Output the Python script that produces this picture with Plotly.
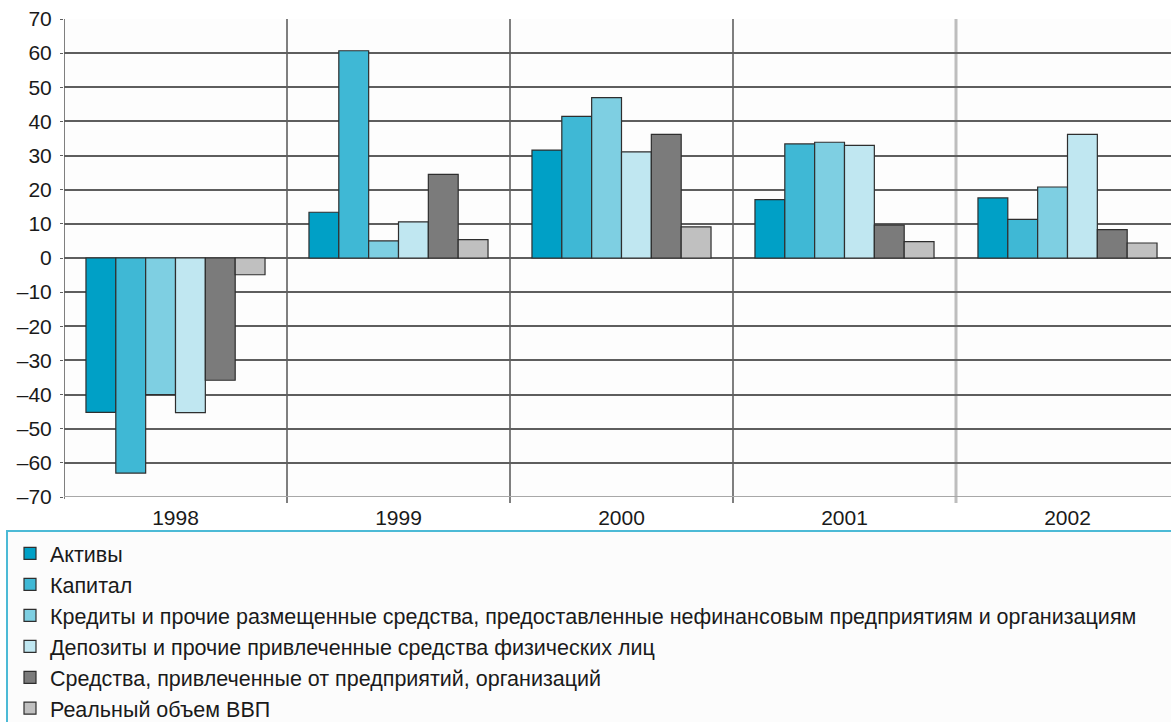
import plotly.graph_objects as go

# Growth rates, % — grouped by year
years = ["1998", "1999", "2000", "2001", "2002"]

series_names = [
    "Активы",
    "Капитал",
    "Кредиты и прочие размещенные средства, предоставленные нефинансовым предприятиям и организациям",
    "Депозиты и прочие привлеченные средства физических лиц",
    "Средства, привлеченные от предприятий, организаций",
    "Реальный объем ВВП",
]

aktivy = [-45.2, 13.4, 31.6, 17.1, 17.6]
kapital = [-63.0, 60.7, 41.5, 33.4, 11.3]
kredity = [-40.0, 5.0, 47.0, 33.9, 20.8]
depozity = [-45.3, 10.6, 31.1, 33.0, 36.2]
sredstva = [-35.8, 24.5, 36.2, 9.6, 8.3]
vvp = [-4.9, 5.4, 9.1, 4.8, 4.4]

series_values = [aktivy, kapital, kredity, depozity, sredstva, vvp]
series_colors = ["#00a0c6", "#3fb8d5", "#7ecfe2", "#c0e7f1", "#7b7b7b", "#c0c0c0"]

y_ticks = list(range(-70, 71, 10))
y_tick_text = [("–" + str(abs(v))) if v < 0 else str(v) for v in y_ticks]

FONT = "Liberation Sans, Arial, sans-serif"

fig = go.Figure()
for i, (name, vals, col) in enumerate(zip(series_names, series_values, series_colors)):
    fig.add_trace(go.Bar(
        x=list(range(len(years))),
        y=vals,
        name=name,
        marker=dict(color=col, line=dict(color="#2e2e2e", width=1.2)),
    ))

# plot area: 64..1171 px horizontally, 19..497 px vertically
W, H = 1171, 722
L, R, T, B = 64, 0, 19, 225
plot_w = W - L - R
plot_h = H - T - B
cat_w = 223.0
x_max = -0.5 + plot_w / cat_w

def px_to_paper_y(py):
    return (H - B - py) / plot_h

def px_to_paper_x(px):
    return (px - L) / plot_w

shapes = []
# category separators (last one lighter)
for k, xs in enumerate([0.5, 1.5, 2.5, 3.5]):
    last = k == 3
    shapes.append(dict(
        type="line", xref="x", yref="paper",
        x0=xs, x1=xs, y0=px_to_paper_y(503), y1=1,
        line=dict(color="#bdbdbd" if last else "#555555", width=3 if last else 1.5),
        layer="below",
    ))
# left axis line
shapes.append(dict(type="line", xref="x", yref="paper", x0=-0.5, x1=-0.5,
                   y0=px_to_paper_y(499), y1=1,
                   line=dict(color="#555555", width=1.5), layer="below"))
# bottom (−70) line is lighter
shapes.append(dict(type="line", xref="paper", yref="y", x0=0, x1=1, y0=-70, y1=-70,
                   line=dict(color="#a8a8a8", width=2), layer="below"))
# legend frame
shapes.append(dict(type="rect", xref="paper", yref="paper",
                   x0=px_to_paper_x(7), x1=px_to_paper_x(1180),
                   y0=px_to_paper_y(735), y1=px_to_paper_y(531),
                   line=dict(color="#4cbad6", width=2), fillcolor="#fcfcfc",
                   layer="below"))

fig.update_layout(
    width=W, height=H,
    margin=dict(l=L, r=R, t=T, b=B, autoexpand=False),
    paper_bgcolor="white",
    plot_bgcolor="#fdfdfd",
    font=dict(family=FONT, size=21, color="#1a1a1a"),
    barmode="group",
    bargap=0.197,
    bargroupgap=0,
    shapes=shapes,
    showlegend=True,
    legend=dict(
        x=px_to_paper_x(10), y=px_to_paper_y(533),
        xanchor="left", yanchor="top",
        orientation="v",
        traceorder="normal",
        font=dict(family=FONT, size=21.5, color="#1a1a1a"),
        bgcolor="rgba(0,0,0,0)",
        borderwidth=0,
        itemwidth=30,
    ),
    xaxis=dict(
        range=[-0.5, x_max],
        tickmode="array",
        tickvals=list(range(len(years))),
        ticktext=years,
        showgrid=False,
        zeroline=False,
        showline=False,
        ticks="",
        ticklabelstandoff=6,
        tickfont=dict(family=FONT, size=21, color="#1a1a1a"),
        fixedrange=True,
    ),
    yaxis=dict(
        range=[-70, 70],
        tickmode="array",
        tickvals=y_ticks,
        ticktext=y_tick_text,
        showgrid=True,
        gridcolor="#5e5e5e",
        gridwidth=1.8,
        zeroline=True,
        zerolinecolor="#5e5e5e",
        zerolinewidth=1.8,
        showline=False,
        ticks="outside",
        ticklen=3,
        tickcolor="#5e5e5e",
        ticklabelstandoff=4,
        tickfont=dict(family=FONT, size=21, color="#1a1a1a"),
        fixedrange=True,
    ),
)

fig.write_html("out.html")
